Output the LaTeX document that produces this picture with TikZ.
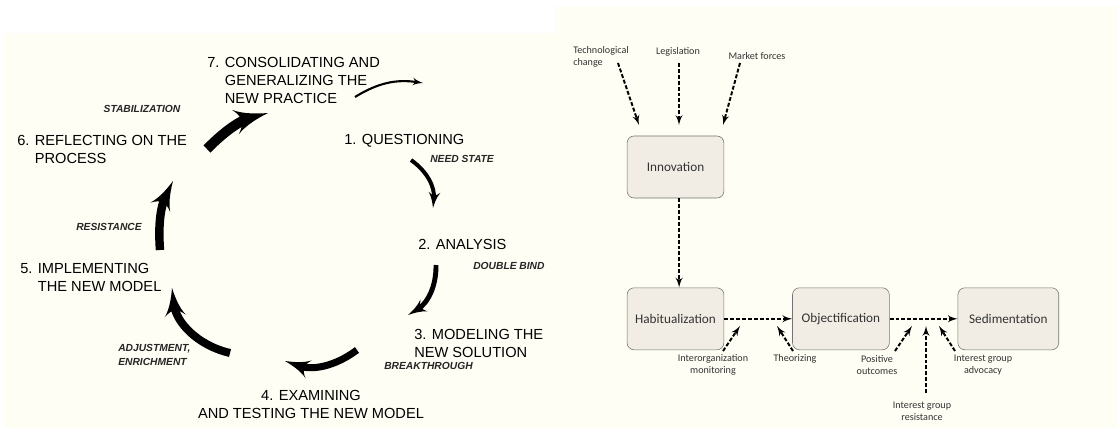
\documentclass[tikz,border=0pt]{standalone}
\usepackage{fontspec}
\setmainfont{Liberation Sans}
\newfontfamily\calfont{Carlito}
\usetikzlibrary{shapes,arrows,positioning}
\definecolor{paper}{RGB}{255,254,244}
\definecolor{boxfill}{RGB}{241,237,228}
\definecolor{boxline}{RGB}{115,115,115}
\definecolor{labelgray}{RGB}{50,50,50}
\tikzstyle{stage}     = [inner sep=0pt, align=left, font=\fontsize{10.4}{12.8}\selectfont]
\tikzstyle{phase}     = [inner sep=0pt, align=left, text=black!85, font=\fontsize{7.3}{10}\selectfont\bfseries\itshape]
\tikzstyle{cyclearrow}= [draw, -latex']
\tikzstyle{instbox}   = [rectangle, draw=boxline, fill=boxfill, rounded corners=5pt, minimum width=2.42cm, minimum height=1.55cm, text=labelgray, font=\calfont\fontsize{9.4}{10}\selectfont]
\tikzstyle{force}     = [inner sep=0pt, align=center, text=labelgray, font=\calfont\fontsize{7.2}{8.5}\selectfont]
\tikzstyle{flow}      = [draw, -latex', line width=1.4pt, dash pattern=on 2.8pt off 1.4pt]

\begin{document}
\begin{tikzpicture}[x=0.025cm, y=-0.025cm]
        \useasboundingbox (0,0) rectangle (1117,428);
        \fill[white] (0,0) rectangle (1117,428);
        \fill[paper] (4,33) rectangle (555,428);
        \fill[paper] (555,6) rectangle (1117,428);

        % expansive learning cycle
        \node [stage, anchor=west] (consol) at (207,80) {7. CONSOLIDATING AND\\\phantom{7. }GENERALIZING THE\\\phantom{7. }NEW PRACTICE};
        \node [stage, anchor=west] (question) at (344,141) {1. QUESTIONING};
        \node [stage, anchor=west] (analysis) at (418,244) {2. ANALYSIS};
        \node [stage, anchor=west] (modeling) at (414,343) {3. MODELING THE\\NEW SOLUTION};
        \node [stage, align=center] (examine) at (311,404.5) {4. EXAMINING\\AND TESTING THE NEW MODEL};
        \node [stage, anchor=west] (implement) at (20,277) {5. IMPLEMENTING\\\phantom{5. }THE NEW MODEL};
        \node [stage, anchor=west] (reflect) at (17,149.5) {6. REFLECTING ON THE\\\phantom{6. }PROCESS};

        \node [phase] (stab) at (142,109) {STABILIZATION};
        \node [phase, anchor=west] (need) at (430,159) {NEED STATE};
        \node [phase, anchor=west] (dbind) at (473,266) {DOUBLE BIND};
        \node [phase, anchor=west] (breakthru) at (384,366) {BREAKTHROUGH};
        \node [phase, anchor=west] (adjust) at (118,355) {ADJUSTMENT,\\ENRICHMENT};
        \node [phase, anchor=west] (resist) at (76,227) {RESISTANCE};

        \coordinate (a7s) at (355,97);   \coordinate (a7e) at (423,83);
        \coordinate (a12s) at (411,160); \coordinate (a12e) at (433,208);
        \coordinate (a23s) at (436,265); \coordinate (a23e) at (408,315);
        \coordinate (a34s) at (357,350); \coordinate (a34e) at (285,361);
        \coordinate (a45s) at (230,353); \coordinate (a45e) at (172,288);
        \coordinate (a56s) at (160,250); \coordinate (a56e) at (173,181);
        \coordinate (a67s) at (207,149); \coordinate (a67e) at (268,113);

        \path [cyclearrow, line width=1.5pt] (a7s) to[bend left=20] (a7e);
        \path [cyclearrow, line width=2.8pt] (a12s) to[bend left=30] (a12e);
        \path [cyclearrow, line width=3.5pt] (a23s) to[bend left=30] (a23e);
        \path [cyclearrow, line width=5pt] (a34s) to[bend left=28] (a34e);
        \path [cyclearrow, line width=5.7pt] (a45s) to[bend left=35] (a45e);
        \path [cyclearrow, line width=6pt] (a56s) to[bend left=15] (a56e);
        \path [cyclearrow, line width=7.1pt] (a67s) to[bend left=15] (a67e);

        % institutionalization process
        \node [instbox] (innov) at (675.5,167) {Innovation};
        \node [instbox, below=2.23cm of innov] (habit) {Habitualization};
        \node [instbox, right=1.7cm of habit] (objectif) {Objectification};
        \node [instbox, right=1.7cm of objectif, minimum width=2.52cm] (sediment) {Sedimentation};

        \node [force, align=left, anchor=west] (tech) at (573,56.5) {Technological\\change};
        \node [force] (legis) at (678,52) {Legislation};
        \node [force] (market) at (757,56) {Market forces};
        \node [force] (interorg) at (713,365) {Interorganization\\monitoring};
        \node [force] (theor) at (795,359) {Theorizing};
        \node [force] (posout) at (877,365) {Positive\\outcomes};
        \node [force] (advoc) at (983,365) {Interest group\\advocacy};
        \node [force] (igresist) at (922,411) {Interest group\\resistance};

        \coordinate (techs) at (618,63);  \coordinate (teche) at (639,125);
        \coordinate (legiss) at (679,63); \coordinate (legise) at (679,125);
        \coordinate (markets) at (740,63); \coordinate (markete) at (723,125);
        \coordinate (ios) at (723,351);   \coordinate (ioe) at (740,326);
        \coordinate (ths) at (793,351);   \coordinate (the) at (777,326);
        \coordinate (pos) at (895,351);   \coordinate (poe) at (912,326);
        \coordinate (rss) at (926,393);   \coordinate (rse) at (926,326);
        \coordinate (ads) at (955,351);   \coordinate (ade) at (939,326);

        \path [flow] (techs) -- (teche);
        \path [flow] (legiss) -- (legise);
        \path [flow] (markets) -- (markete);
        \path [flow] ([xshift=0.09cm]innov.south) -- ([xshift=0.09cm]habit.north);
        \path [flow] (habit) -- (objectif);
        \path [flow] (objectif) -- (sediment);
        \path [flow] (ios) -- (ioe);
        \path [flow] (ths) -- (the);
        \path [flow] (pos) -- (poe);
        \path [flow] (rss) -- (rse);
        \path [flow] (ads) -- (ade);
      \end{tikzpicture}
\end{document}
